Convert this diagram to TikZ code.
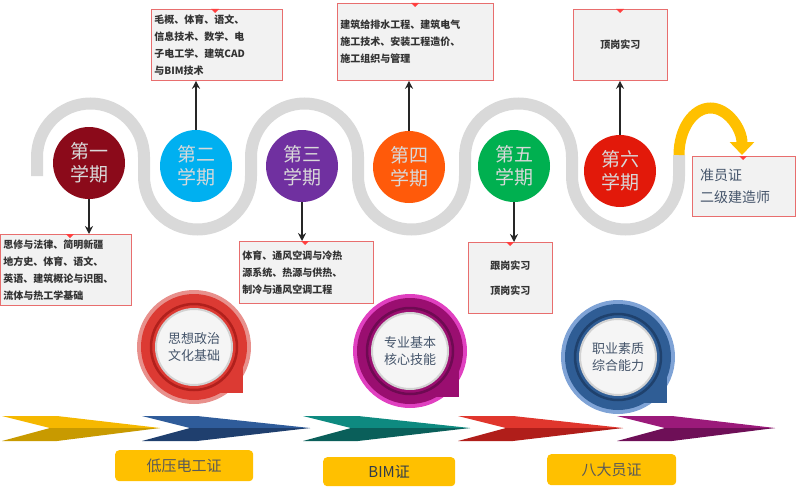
\documentclass[tikz,border=0pt]{standalone}
\usepackage{fontspec}
\usepackage{tikz}
\usetikzlibrary{arrows.meta}
\newfontfamily\cjk{Noto Sans CJK SC}
\definecolor{trackGray}{RGB}{217, 217, 217}
\definecolor{goldYellow}{RGB}{255, 192, 0}
\definecolor{termOne}{RGB}{139, 10, 26}
\definecolor{termTwo}{RGB}{0, 176, 240}
\definecolor{termThree}{RGB}{112, 48, 160}
\definecolor{termFour}{RGB}{255, 90, 10}
\definecolor{termFive}{RGB}{0, 176, 80}
\definecolor{termSix}{RGB}{226, 25, 10}
\definecolor{boxEdge}{RGB}{232, 110, 110}
\definecolor{badgeText}{RGB}{68, 84, 106}
% badges
\definecolor{paleA}{RGB}{232, 144, 140}
\definecolor{mainA}{RGB}{220, 58, 51}
\definecolor{darkA}{RGB}{176, 32, 28}
\definecolor{paleB}{RGB}{224, 64, 192}
\definecolor{mainB}{RGB}{154, 14, 112}
\definecolor{darkB}{RGB}{110, 10, 82}
\definecolor{paleC}{RGB}{127, 163, 214}
\definecolor{mainC}{RGB}{47, 93, 149}
\definecolor{darkC}{RGB}{31, 65, 109}
% chevrons
\definecolor{liteA}{RGB}{245, 184, 0}
\definecolor{deepA}{RGB}{200, 154, 0}
\definecolor{liteB}{RGB}{47, 92, 154}
\definecolor{deepB}{RGB}{31, 63, 110}
\definecolor{liteC}{RGB}{14, 138, 128}
\definecolor{deepC}{RGB}{10, 95, 90}
\definecolor{liteD}{RGB}{224, 54, 45}
\definecolor{deepD}{RGB}{176, 30, 26}
\definecolor{liteE}{RGB}{155, 26, 122}
\definecolor{deepE}{RGB}{110, 15, 87}
\tikzset{
  term/.style={circle, minimum size=72pt, inner sep=0pt, align=center,
    text=gray!30, font=\cjk\fontsize{19}{23}\selectfont},
  course/.style={draw=boxEdge, fill=gray!10, line width=0.8pt, anchor=north west,
    inner sep=3pt, align=left, font=\cjk\bfseries\fontsize{10}{17}\selectfont, text=black!80},
  link/.style={black!85, line width=1.6pt, -{Stealth[length=8pt, width=8pt]}},
  cert/.style={fill=goldYellow, rounded corners=4pt, anchor=north west,
    text=black!65, font=\cjk\fontsize{15}{18}\selectfont},
}
\begin{document}
\begin{tikzpicture}[x=1pt, y=-1pt]
  \useasboundingbox (0,0) rectangle (800,487);

  % serpentine track
  \draw[trackGray, line width=12pt] (37,176)
    foreach \i in {1,2,3} { -- ++(0,-19) arc[start angle=180, end angle=0, radius=53.5pt]
      -- ++(0,19) arc[start angle=180, end angle=360, radius=53.5pt] } -- ++(0,-21);
  \draw[goldYellow, line width=11pt, -{Triangle[width=24pt, length=13pt]}]
    (679,155) arc[start angle=180, end angle=0, x radius=31.5pt, y radius=47pt];

  % terms
  \node[term, fill=termOne] (c1) at (89,163) {第一\\学期};
  \node[term, fill=termTwo] (c2) at (196,166) {第二\\学期};
  \node[term, fill=termThree] (c3) at (302,166) {第三\\学期};
  \node[term, fill=termFour] (c4) at (409,167) {第四\\学期};
  \node[term, fill=termFive] (c5) at (514,166) {第五\\学期};
  \node[term, fill=termSix] (c6) at (620,171) {第六\\学期};

  % course boxes
  \node[course, text width=125pt, minimum height=71pt] (b1) at (0,234)
    {思修与法律、简明新疆\\地方史、体育、语文、\\英语、建筑概论与识图、\\流体与热工学基础};
  \node[course, text width=125pt, minimum height=71pt] (b2) at (151,9)
    {毛概、体育、语文、\\信息技术、数学、电\\子电工学、建筑CAD\\与BIM技术};
  \node[course, text width=128pt, minimum height=62pt] (b3) at (239,241)
    {体育、通风空调与冷热\\源系统、热源与供热、\\制冷与通风空调工程};
  \node[course, text width=150pt, minimum height=77pt] (b4) at (337,3)
    {建筑给排水工程、建筑电气\\施工技术、安装工程造价、\\施工组织与管理\\ };
  \node[course, text width=78pt, minimum height=71pt, align=center] (b5) at (468,242)
    {跟岗实习\\[8pt]顶岗实习};
  \node[course, text width=88pt, minimum height=71pt, align=center] (b6) at (573,9)
    {顶岗实习};
  \node[course, text width=97pt, minimum height=60pt, font=\cjk\fontsize{14}{22}\selectfont,
    text=badgeText] (b7) at (692,156) {\ 准员证\\\ 二级建造师};
  \foreach \x/\y in {70/234, 215/9, 305/241, 415/3, 510/242, 620/9, 743/156}
    \fill[red!75] (\x-4,\y) -- (\x+4,\y) -- (\x,\y+4) -- cycle;

  % links
  \draw[link] (c1.south) -- (b1.north -| c1.south);
  \draw[link] (c2.north) -- (b2.south -| c2.north);
  \draw[link] (c3.south) -- (b3.north -| c3.south);
  \draw[link] (c4.north) -- (b4.south -| c4.north);
  \draw[link] (c5.south) -- (b5.north -| c5.south);
  \draw[link] (c6.north) -- (b6.south -| c6.north);

  % badges
  \foreach \cx/\cy/\s/\txt [count=\k] in
    {194/347/A/{思想政治\\文化基础}, 410/351/B/{专业基本\\核心技能}, 618/357/C/{职业素质\\综合能力}} {
    \fill[pale\s] (\cx,\cy) circle (57pt);
    \fill[main\s] (\cx,\cy) rectangle ++(49,46);
    \fill[main\s] (\cx,\cy) circle (53pt);
    \draw[dark\s, line width=2.5pt] (\cx,\cy) circle (43pt);
    \node[circle, fill=gray!8, draw=gray!35, line width=2pt, minimum size=76pt, align=center,
      text=badgeText, font=\cjk\fontsize{13}{17}\selectfont] (g\k) at (\cx,\cy) {\txt};
  }

  % chevrons
  \foreach \xa/\xb/\s in {2/160/A, 142/310/B, 303/470/C, 458/623/D, 617/775/E} {
    \fill[lite\s] (\xa,416) -- (\xa+55,416) -- (\xb,428) -- (\xa+48,428) -- cycle;
    \fill[deep\s] (\xa,441) -- (\xa+55,441) -- (\xb,428) -- (\xa+48,428) -- cycle;
  }

  % certificates
  \node[cert, minimum width=138pt, minimum height=31pt] (k1) at (115,450) {低压电工证};
  \node[cert, minimum width=132pt, minimum height=29pt, text=badgeText!70!black] (k2) at (323,457)
    {{\itshape BIM}证};
  \node[cert, minimum width=129pt, minimum height=31pt] (k3) at (547,454) {八大员证};
\end{tikzpicture}
\end{document}
